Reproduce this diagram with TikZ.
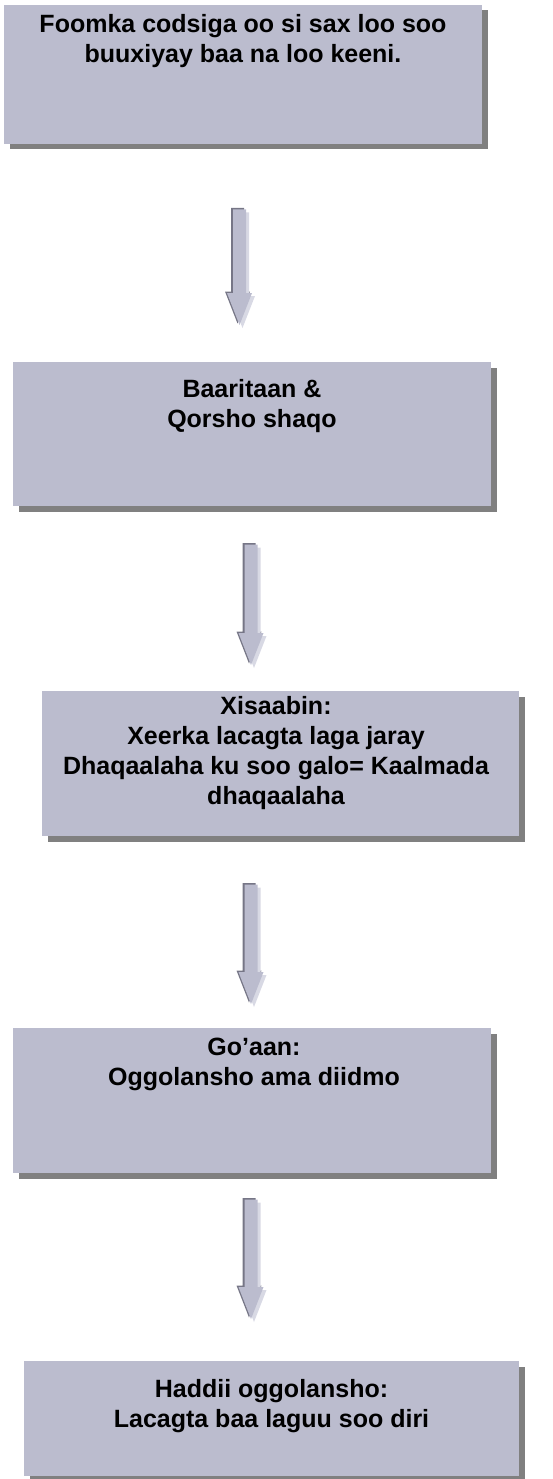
\documentclass[tikz,border=0pt]{standalone}
\usepackage{fontspec}
\setmainfont{Liberation Sans}
\usetikzlibrary{calc,shadows}
\definecolor{boxfill}{RGB}{187,188,206}
\definecolor{boxshade}{RGB}{128,128,128}
\definecolor{arrfill}{RGB}{187,188,206}
\definecolor{arrdark}{RGB}{118,118,134}
\definecolor{arrlight}{RGB}{216,217,228}
\tikzset{
  procbox/.style={rectangle, fill=boxfill, inner sep=0pt, outer sep=0pt, anchor=north west,
    general shadow={fill=boxshade, shadow xshift=5.5pt, shadow yshift=-5.5pt}},
  boxtext/.style={anchor=north, inner sep=0pt, align=center,
    font=\bfseries\fontsize{25}{30}\selectfont},
}
\newcommand\blockarrow[2]{%
  \foreach \dx/\dy/\col in {-2/-1.5/arrdark, 3/3/arrlight, 0/0/arrfill}{%
    \fill[\col] ($(#1)+(-6.5+\dx,\dy)$) -- ($(#1)+(6.5+\dx,\dy)$)
      -- ($(#2)+(6.5+\dx,-32+\dy)$) -- ($(#2)+(12.5+\dx,-32+\dy)$)
      -- ($(#2)+(\dx,\dy)$)
      -- ($(#2)+(-12.5+\dx,-32+\dy)$) -- ($(#2)+(-6.5+\dx,-32+\dy)$) -- cycle;
  }%
}
\begin{document}
\begin{tikzpicture}[x=1pt,y=-1pt]
\useasboundingbox (0,0) rectangle (552,1479);

% boxes
\node[procbox, minimum width=478pt, minimum height=139pt] (b1) at (4,5) {};
\node[procbox, minimum width=478pt, minimum height=144pt] (b2) at (13,362) {};
\node[procbox, minimum width=477pt, minimum height=145pt] (b3) at (42,691) {};
\node[procbox, minimum width=478pt, minimum height=145pt] (b4) at (13,1028) {};
\node[procbox, minimum width=495pt, minimum height=115pt] (b5) at (24,1361) {};

% texts (first baseline = y + 20)
\node[boxtext] (t1) at (243,12) {\rule{0pt}{20pt}Foomka codsiga oo si sax loo soo\\buuxiyay baa na loo keeni.};
\node[boxtext] (t2) at (252,377) {\rule{0pt}{20pt}Baaritaan \&\\Qorsho shaqo};
\node[boxtext] (t3) at (276,694) {\rule{0pt}{20pt}Xisaabin:\\Xeerka lacagta laga jaray\\Dhaqaalaha ku soo galo= Kaalmada\\dhaqaalaha};
\node[boxtext] (t4) at (254,1035) {\rule{0pt}{20pt}Go’aan:\\Oggolansho ama diidmo};
\node[boxtext] (t5) at (271.5,1377) {\rule{0pt}{20pt}Haddii oggolansho:\\Lacagta baa laguu soo diri};

% arrow end points
\coordinate (a1s) at (239.5,209.5); \coordinate (a1e) at (239.5,325);
\coordinate (a2s) at (251,544.5);   \coordinate (a2e) at (251,665);
\coordinate (a3s) at (251,884.5);   \coordinate (a3e) at (251,1004);
\coordinate (a4s) at (251,1199.5);  \coordinate (a4e) at (251,1319);

\blockarrow{a1s}{a1e}
\blockarrow{a2s}{a2e}
\blockarrow{a3s}{a3e}
\blockarrow{a4s}{a4e}
\end{tikzpicture}
\end{document}
